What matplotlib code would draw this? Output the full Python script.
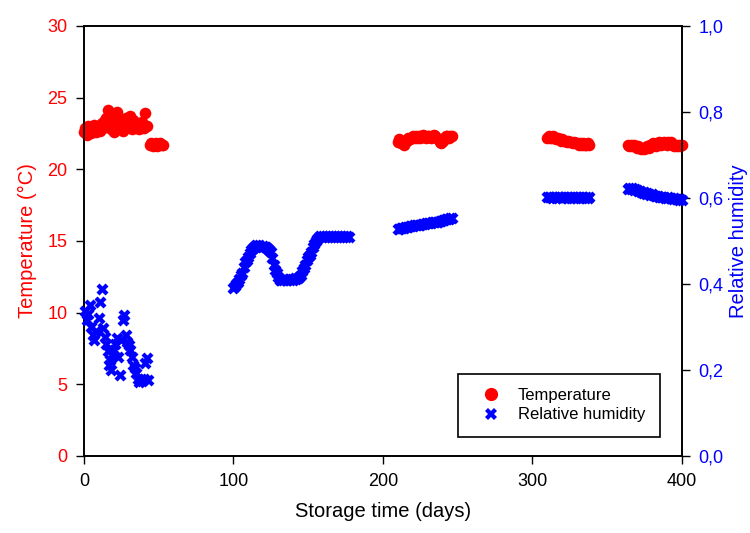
import numpy as np
import matplotlib.pyplot as plt
from matplotlib.lines import Line2D

plt.rcParams['font.family'] = ['Liberation Sans', 'DejaVu Sans']

# temperature readings (days, degC)
temp_days = [0, 1, 2, 3, 4, 5, 6, 7, 8, 9, 10, 11, 12, 13, 14, 15, 16, 17, 18, 19,
             20, 21, 22, 23, 24, 25, 26, 27, 28, 29, 30, 31, 32, 33, 34, 35, 36, 37,
             38, 39, 40, 41, 42, 44, 45, 46, 47, 48, 49, 50, 51, 52, 53,
             210, 211, 212, 213, 214, 215, 216, 217, 218, 219, 220, 221, 222, 223,
             224, 225, 226, 227, 228, 229, 230, 231, 232, 233, 234, 235, 236, 237,
             238, 239, 240, 241, 242, 243, 244, 245, 246,
             310, 311, 312, 313, 314, 315, 316, 317, 318, 319, 320, 321, 322, 323,
             324, 325, 326, 327, 328, 329, 330, 331, 332, 333, 334, 335, 336, 337, 338,
             364, 365, 366, 367, 368, 369, 370, 371, 372, 373, 374, 375, 376, 377,
             378, 379, 380, 381, 382, 383, 384, 385, 386, 387, 388, 389, 390, 391,
             392, 393, 394, 395, 396, 397, 398, 399, 400]
temp_vals = [22.6, 22.9, 22.4, 23.0, 22.7, 22.5, 22.9, 23.1, 22.6, 22.8, 23.0, 22.7,
             23.2, 22.9, 23.4, 23.6, 24.1, 23.8, 22.8, 23.3, 22.6, 23.0, 24.0, 23.5,
             22.9, 23.2, 22.7, 23.1, 23.6, 23.3, 23.0, 23.7, 22.8, 23.4, 23.1, 22.9,
             23.2, 22.8, 23.0, 23.3, 22.9, 23.9, 23.0,
             21.7, 21.8, 21.6, 21.7, 21.8, 21.6, 21.7, 21.8, 21.7, 21.7,
             21.9, 22.1, 21.8, 22.0, 21.7, 21.9, 22.0, 22.2, 22.1, 22.2, 22.3, 22.2,
             22.3, 22.2, 22.3, 22.2, 22.3, 22.4, 22.3, 22.2, 22.3, 22.3, 22.2, 22.3,
             22.4, 22.3, 22.2, 22.1, 21.9, 21.8, 22.0, 22.2, 22.3, 22.3, 22.2, 22.3, 22.3,
             22.2, 22.3, 22.2, 22.2, 22.3, 22.2, 22.1, 22.2, 22.1, 22.0, 22.1, 22.0,
             22.0, 21.9, 22.0, 21.9, 21.9, 21.8, 21.9, 21.8, 21.8, 21.7, 21.8, 21.7,
             21.8, 21.7, 21.7, 21.8, 21.7,
             21.7, 21.6, 21.7, 21.6, 21.7, 21.6, 21.5, 21.6, 21.5, 21.4, 21.5, 21.4,
             21.5, 21.6, 21.5, 21.7, 21.6, 21.8, 21.7, 21.6, 21.8, 21.9, 21.7, 21.8,
             21.9, 21.8, 21.7, 21.9, 21.8, 21.9, 21.7, 21.6, 21.7, 21.6, 21.7, 21.6, 21.7]

# relative humidity readings (days, fraction)
rh_days = [1, 2, 3, 4, 5, 6, 7, 8, 10, 11, 12, 13, 14, 15, 16, 17, 17.5, 18, 19,
           20, 21, 22, 23, 24, 25, 26, 27, 28, 29, 30, 31, 32, 33, 34, 35, 36, 37,
           38, 39, 40, 41, 42, 43,
           100, 101, 102, 103, 104, 105, 106, 107, 108, 109, 110, 111, 112, 113,
           114, 115, 116, 117, 118, 119, 120, 121, 122, 123, 124, 125, 126, 127,
           128, 129, 130, 131, 132, 133, 134, 135, 136, 137, 138, 139, 140, 141,
           142, 143, 144, 145, 146, 147, 148, 149, 150, 151, 152, 153, 154, 155,
           156, 157, 158, 159, 160, 161, 162, 163, 164, 165, 166, 167, 168, 169,
           170, 171, 172, 173, 174, 175, 176, 177,
           210, 211, 212, 213, 214, 215, 216, 217, 218, 219, 220, 221, 222, 223,
           224, 225, 226, 227, 228, 229, 230, 231, 232, 233, 234, 235, 236, 237,
           238, 239, 240, 241, 242, 243, 244, 245, 246,
           310, 311, 312, 313, 314, 315, 316, 317, 318, 319, 320, 321, 322, 323,
           324, 325, 326, 327, 328, 329, 330, 331, 332, 333, 334, 335, 336, 337, 338,
           364, 365, 366, 367, 368, 369, 370, 371, 372, 373, 374, 375, 376, 377,
           378, 379, 380, 381, 382, 383, 384, 385, 386, 387, 388, 389, 390, 391,
           392, 393, 394, 395, 396, 397, 398, 399, 400]
rh_vals = [0.336, 0.316, 0.330, 0.351, 0.300, 0.281, 0.270, 0.290, 0.320, 0.359,
           0.388, 0.297, 0.277, 0.260, 0.243, 0.212, 0.223, 0.200, 0.235, 0.247,
           0.260, 0.274, 0.230, 0.188, 0.270, 0.316, 0.328, 0.281, 0.265, 0.258,
           0.247, 0.230, 0.212, 0.205, 0.192, 0.180, 0.173, 0.180, 0.175, 0.178,
           0.216, 0.227, 0.177,
           0.390, 0.395, 0.400, 0.405, 0.412, 0.420, 0.425, 0.440, 0.450, 0.455,
           0.462, 0.472, 0.480, 0.483, 0.487, 0.490, 0.488, 0.491, 0.487, 0.486,
           0.489, 0.485, 0.487, 0.482, 0.478, 0.475, 0.460, 0.445, 0.433, 0.425,
           0.415, 0.410, 0.408, 0.410, 0.412, 0.409, 0.408, 0.411, 0.409, 0.412,
           0.410, 0.413, 0.411, 0.414, 0.416, 0.420, 0.430, 0.438, 0.445, 0.455,
           0.462, 0.468, 0.475, 0.485, 0.493, 0.500, 0.505, 0.510, 0.511, 0.510,
           0.511, 0.510, 0.511, 0.510, 0.511, 0.510, 0.511, 0.510, 0.511, 0.510,
           0.511, 0.510, 0.511, 0.510, 0.511, 0.510, 0.511, 0.510,
           0.527, 0.528, 0.530, 0.529, 0.531, 0.532, 0.533, 0.532, 0.534, 0.535,
           0.535, 0.536, 0.537, 0.537, 0.538, 0.538, 0.539, 0.540, 0.540, 0.541,
           0.541, 0.542, 0.542, 0.543, 0.543, 0.544, 0.545, 0.545, 0.546, 0.547,
           0.548, 0.549, 0.550, 0.551, 0.552, 0.553, 0.553,
           0.602, 0.601, 0.603, 0.600, 0.602, 0.601, 0.600, 0.602, 0.601, 0.603,
           0.600, 0.601, 0.602, 0.600, 0.601, 0.603, 0.600, 0.602, 0.601, 0.600,
           0.602, 0.601, 0.600, 0.602, 0.601, 0.600, 0.601, 0.600, 0.601,
           0.621, 0.623, 0.620, 0.622, 0.619, 0.621, 0.618, 0.616, 0.617, 0.614,
           0.612, 0.613, 0.610, 0.611, 0.608, 0.607, 0.608, 0.606, 0.605, 0.604,
           0.605, 0.603, 0.602, 0.603, 0.601, 0.600, 0.600, 0.601, 0.599, 0.600,
           0.598, 0.599, 0.597, 0.598, 0.596, 0.597, 0.596]

xticks = [0, 100, 200, 300, 400]
temp_ticks = [0, 5, 10, 15, 20, 25, 30]
rh_ticks = [0.0, 0.2, 0.4, 0.6, 0.8, 1.0]
rh_ticklabels = ['0,0', '0,2', '0,4', '0,6', '0,8', '1,0']

red = '#ff0000'
blue = '#0000ff'

fig = plt.figure(figsize=(7.5, 5.33), dpi=100)
ax = fig.add_axes([0.112, 0.1445, 0.797, 0.807])
ax2 = ax.twinx()

ax.scatter(temp_days, temp_vals, s=70, c=red, marker='o', linewidths=0,
           clip_on=False, zorder=3)
ax2.scatter(rh_days, rh_vals, s=75, c=blue, marker='X', linewidths=0,
            clip_on=False, zorder=3)

ax.set_xlim(0, 400)
ax.set_ylim(0, 30)
ax2.set_ylim(0, 1)
ax.set_xticks(xticks)
ax.set_yticks(temp_ticks)
ax2.set_yticks(rh_ticks)
ax2.set_yticklabels(rh_ticklabels)

ax.tick_params(axis='both', direction='out', length=6, width=1, labelsize=13, pad=6)
ax.tick_params(axis='y', labelcolor=red)
ax2.tick_params(axis='y', direction='out', length=6, width=1, labelsize=13, pad=6,
                labelcolor=blue)
for a in (ax, ax2):
    for sp in a.spines.values():
        sp.set_linewidth(1.2)

ax.set_xlabel('Storage time (days)', fontsize=14.5, labelpad=9)
ax.set_ylabel('Temperature (°C)', fontsize=14.5, color=red, labelpad=7)
ax2.set_ylabel('Relative humidity', fontsize=14.5, color=blue, labelpad=4,
               rotation=90)

handles = [Line2D([], [], linestyle='none', marker='o', color=red, markersize=8.5),
           Line2D([], [], linestyle='none', marker='X', color=blue, markersize=8.5,
                  markeredgewidth=0)]
leg = ax2.legend(handles, ['Temperature', 'Relative humidity'], loc='lower right',
                 bbox_to_anchor=(0.963, 0.045), fontsize=12, frameon=True,
                 fancybox=False, edgecolor='black', framealpha=1,
                 borderpad=0.85, handlelength=2.2, handletextpad=0.55,
                 labelspacing=0.25, borderaxespad=0)
leg.get_frame().set_linewidth(1.2)

fig.savefig('out.png', dpi=100)
